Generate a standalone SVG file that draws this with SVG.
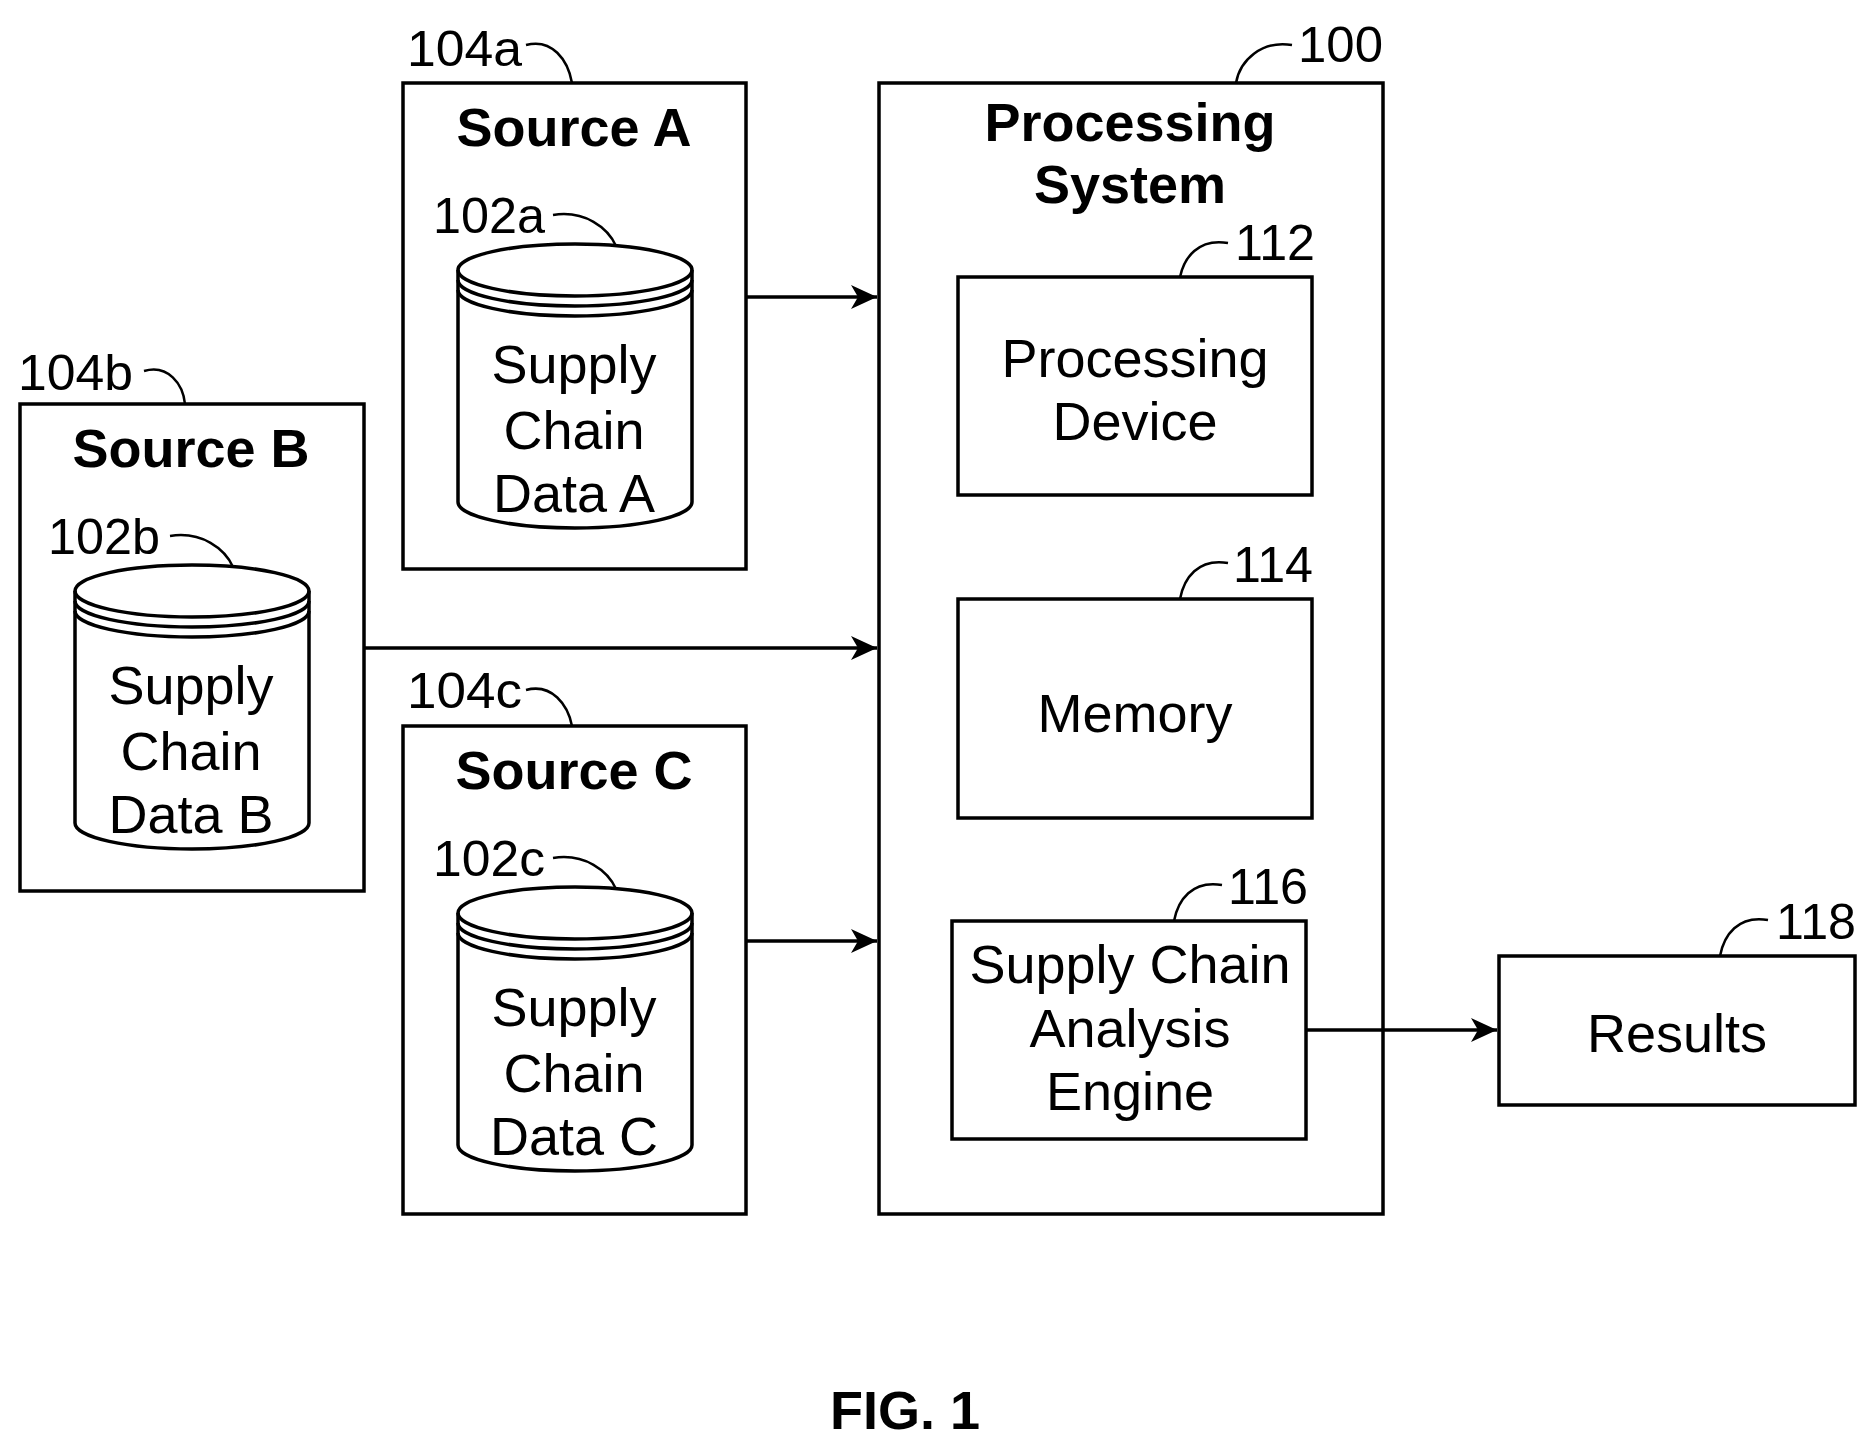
<svg xmlns="http://www.w3.org/2000/svg" width="1875" height="1453" viewBox="0 0 1875 1453">
<style>
.b{fill:none;stroke:#000;stroke-width:3.5}
.l{fill:none;stroke:#000;stroke-width:2.5}
.t{font-family:"Liberation Sans",Arial,sans-serif;font-size:54px;text-anchor:middle;fill:#000}
.h{font-family:"Liberation Sans",Arial,sans-serif;font-size:54px;font-weight:bold;text-anchor:middle;fill:#000}
.r{font-family:"Liberation Sans",Arial,sans-serif;font-size:50px;fill:#000}
</style>
<defs>
<marker id="a" markerWidth="10" markerHeight="10" refX="9" refY="5" orient="auto" markerUnits="userSpaceOnUse" viewBox="0 0 10 10">
<path d="M0,0 L10,5 L0,10 L3,5 z" fill="#000" transform="scale(1)"/>
</marker>
<marker id="m" markerWidth="28" markerHeight="24" refX="26" refY="12" orient="auto" markerUnits="userSpaceOnUse">
<path d="M0,0 L26,12 L0,24 L7,12 z" fill="#000"/>
</marker>
<g id="cyl">
<path class="b" d="M458,270 V502 A117,26 0 0 0 692,502 V270"/>
<ellipse class="b" cx="575" cy="270" rx="117" ry="26"/>
<path class="b" d="M458,280 A117,26 0 0 0 692,280 M458,290 A117,26 0 0 0 692,290"/>
</g>
</defs>
<g id="sourceA">
<rect class="b" x="403" y="83" width="343" height="486"/>
<text class="h" x="574" y="146">Source A</text>
<text class="r" x="407" y="66" textLength="115" lengthAdjust="spacingAndGlyphs">104a</text>
<path class="l" d="M526,45 C552,38 568,60 572,83"/>
<use href="#cyl"/>
<text class="r" x="433" y="233" textLength="112" lengthAdjust="spacingAndGlyphs">102a</text>
<path class="l" d="M553,215 C585,210 608,228 616,246"/>
<text class="t" x="574" y="383">Supply</text>
<text class="t" x="574" y="449">Chain</text>
<text class="t" x="574" y="512">Data A</text>
</g>
<g id="sourceB">
<rect class="b" x="20" y="404" width="344" height="487"/>
<text class="h" x="191" y="467">Source B</text>
<text class="r" x="18" y="390" textLength="115" lengthAdjust="spacingAndGlyphs">104b</text>
<path class="l" d="M144,371 C168,364 183,384 185,404"/>
<use href="#cyl" transform="translate(-383,321)"/>
<text class="r" x="48" y="554" textLength="112" lengthAdjust="spacingAndGlyphs">102b</text>
<path class="l" d="M170,536 C202,531 225,549 233,567"/>
<text class="t" x="191" y="704">Supply</text>
<text class="t" x="191" y="770">Chain</text>
<text class="t" x="191" y="833">Data B</text>
</g>
<g id="sourceC">
<rect class="b" x="403" y="726" width="343" height="488"/>
<text class="h" x="574" y="789">Source C</text>
<text class="r" x="407" y="708" textLength="115" lengthAdjust="spacingAndGlyphs">104c</text>
<path class="l" d="M526,690 C552,683 568,705 572,726"/>
<use href="#cyl" transform="translate(0,643)"/>
<text class="r" x="433" y="876" textLength="112" lengthAdjust="spacingAndGlyphs">102c</text>
<path class="l" d="M553,858 C585,853 608,871 616,889"/>
<text class="t" x="574" y="1026">Supply</text>
<text class="t" x="574" y="1092">Chain</text>
<text class="t" x="574" y="1155">Data C</text>
</g>
<g id="processing">
<rect class="b" x="879" y="83" width="504" height="1131"/>
<text class="h" x="1130" y="141">Processing</text>
<text class="h" x="1130" y="203">System</text>
<text class="r" x="1298" y="62" textLength="85" lengthAdjust="spacingAndGlyphs">100</text>
<path class="l" d="M1292,45 C1262,40 1240,60 1236,83"/>
</g>
<g id="device">
<rect class="b" x="958" y="277" width="354" height="218"/>
<text class="t" x="1135" y="377">Processing</text>
<text class="t" x="1135" y="440">Device</text>
<text class="r" x="1235" y="260" textLength="80" lengthAdjust="spacingAndGlyphs">112</text>
<path class="l" d="M1228,243 C1198,238 1184,258 1180,277"/>
</g>
<g id="memory">
<rect class="b" x="958" y="599" width="354" height="219"/>
<text class="t" x="1135" y="732">Memory</text>
<text class="r" x="1233" y="582" textLength="80" lengthAdjust="spacingAndGlyphs">114</text>
<path class="l" d="M1228,563 C1198,558 1184,578 1180,599"/>
</g>
<g id="engine">
<rect class="b" x="952" y="921" width="354" height="218"/>
<text class="t" x="1130" y="983">Supply Chain</text>
<text class="t" x="1130" y="1047">Analysis</text>
<text class="t" x="1130" y="1110">Engine</text>
<text class="r" x="1228" y="904" textLength="80" lengthAdjust="spacingAndGlyphs">116</text>
<path class="l" d="M1222,885 C1192,880 1178,900 1174,921"/>
</g>
<g id="results">
<rect class="b" x="1499" y="956" width="356" height="149"/>
<text class="t" x="1677" y="1052">Results</text>
<text class="r" x="1776" y="939" textLength="80" lengthAdjust="spacingAndGlyphs">118</text>
<path class="l" d="M1768,920 C1738,915 1724,935 1720,956"/>
</g>
<g id="connectors">
<line class="b" x1="746" y1="297" x2="877" y2="297" marker-end="url(#m)"/>
<line class="b" x1="364" y1="648" x2="877" y2="648" marker-end="url(#m)"/>
<line class="b" x1="746" y1="941" x2="877" y2="941" marker-end="url(#m)"/>
<line class="b" x1="1306" y1="1030" x2="1497" y2="1030" marker-end="url(#m)"/>
</g>
<text class="h" x="905" y="1429">FIG. 1</text>
</svg>
